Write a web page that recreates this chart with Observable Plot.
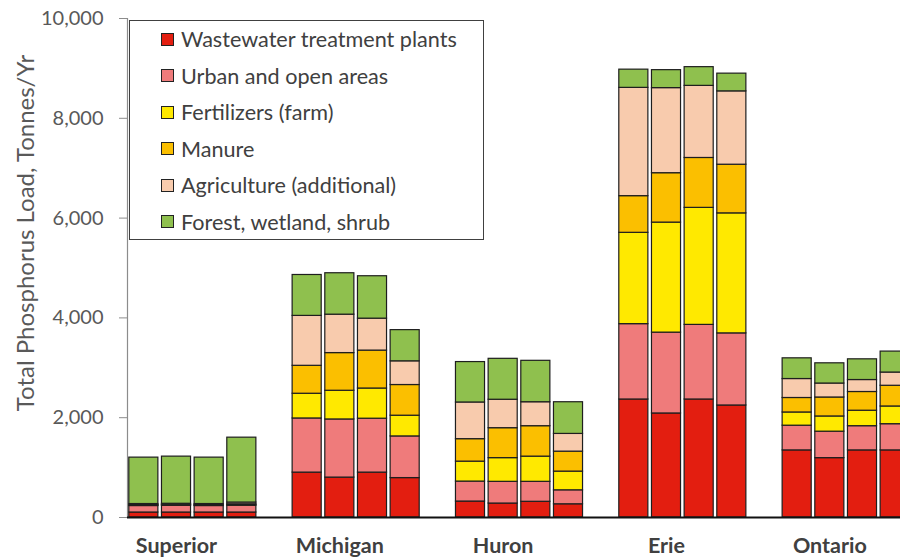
<!DOCTYPE html>
<html>
<head>
<meta charset="utf-8">
<script src="https://cdn.jsdelivr.net/npm/d3@7"></script>
<script src="https://cdn.jsdelivr.net/npm/@observablehq/plot@0.6"></script>
<style>
  html, body { margin: 0; padding: 0; background: #fff; overflow: hidden; width: 900px; height: 559px; }
  #wrap { position: relative; width: 900px; height: 559px; overflow: hidden; font-family: Lato, "Open Sans", sans-serif; }
  #chart { position: absolute; left: 0; top: 0; width: 911px; height: 559px; }
  #chart svg { max-width: none !important; width: 911px; height: 559px; }
  #ylabel { position: absolute; left: 24px; top: 233px; transform: translate(-50%, -50%) rotate(-90deg);
            white-space: nowrap; font-size: 24px; color: #595959; }
  #legend { position: absolute; left: 129px; top: 20px; width: 353px; height: 218px;
            border: 1.5px solid #404040; background: #fff; }
  .item { position: absolute; left: 31px; height: 26px; display: flex; align-items: center;
          font-size: 21.6px; color: #404040; white-space: nowrap; }
  .sw { width: 11px; height: 11px; border: 1.2px solid #222; margin-right: 7px; }
</style>
</head>
<body>
<div id="wrap">
  <div id="chart"></div>
  <div id="ylabel">Total Phosphorus Load, Tonnes/Yr</div>
  <div id="legend"></div>
</div>
<script>
// ---- data ----
const lakes = ["Superior", "Michigan", "Huron", "Erie", "Ontario"];
const scenarios = ["1", "2", "3", "4"];
const sources = [
  "Wastewater treatment plants",
  "Urban and open areas",
  "Fertilizers (farm)",
  "Manure",
  "Agriculture (additional)",
  "Forest, wetland, shrub"
];
const colors = ["#E31E10", "#EF7B7B", "#FFE900", "#FBBF00", "#F8CBAD", "#8FC04E"];

// values per source, 4 bars per lake in lake order
const wastewater  = [100, 100, 100, 100,   900, 800, 900, 790,   320, 280, 315, 265,   2365, 2085, 2365, 2245,   1345, 1190, 1345, 1345];
const urban       = [130, 135, 130, 135,   1085, 1165, 1080, 835, 400, 435, 400, 280,   1510, 1620, 1495, 1445,   495, 530, 485, 525];
const fertilizers = [10, 10, 10, 15,       495, 575, 605, 415,   400, 475, 505, 375,   1830, 2205, 2345, 2405,   265, 305, 310, 355];
const manure      = [10, 10, 10, 15,       560, 755, 760, 615,   450, 600, 610, 400,   735, 990, 1000, 975,      290, 380, 375, 415];
const agriculture = [20, 20, 20, 35,       1000, 770, 640, 475,  735, 570, 480, 355,   2170, 1705, 1445, 1470,   380, 280, 240, 265];
const forest      = [930, 945, 930, 1300,  820, 830, 850, 625,   810, 820, 830, 635,   365, 360, 375, 355,       415, 405, 415, 420];
const series = [wastewater, urban, fertilizers, manure, agriculture, forest];

const yTicks = [0, 2000, 4000, 6000, 8000, 10000];

// ---- build table ----
const slots = [];
lakes.forEach((lake, i) => {
  scenarios.forEach(s => slots.push(lake + "-" + s));
  if (i < lakes.length - 1) slots.push("gap-" + i);
});
const labelSlots = lakes.map(l => l + "-2");
const rows = [];
sources.forEach((src, si) => {
  lakes.forEach((lake, li) => {
    scenarios.forEach((s, k) => {
      rows.push({slot: lake + "-" + s, lake, source: src, value: series[si][li * 4 + k]});
    });
  });
});

const chart = Plot.plot({
  width: 911,
  height: 559,
  marginLeft: 127,
  marginRight: 0,
  marginTop: 18,
  marginBottom: 42,
  style: {fontFamily: "Lato, 'Open Sans', sans-serif", background: "transparent", maxWidth: "none"},
  x: {domain: slots, paddingInner: 0.11, paddingOuter: 0.055, round: false, axis: null},
  y: {domain: [0, 10000], axis: null},
  color: {domain: sources, range: colors},
  marks: [
    Plot.frame({anchor: "left", stroke: "#8c8c8c", strokeWidth: 1.2}),
    Plot.axisY({ticks: yTicks, tickSize: 8, stroke: "#8c8c8c", tickFormat: () => "", label: null}),
    Plot.axisY({ticks: yTicks, tickSize: 0, tickPadding: 24, tickFormat: d3.format(","),
                fontSize: 20, fill: "#595959", label: null}),
    Plot.barY(rows, {x: "slot", y: "value", fill: "source", stroke: "#1e1e1e", strokeWidth: 1.2}),
    Plot.ruleY([0], {stroke: "#111", strokeWidth: 2}),
    Plot.axisX({ticks: labelSlots, tickFormat: s => s.split("-")[0], tickSize: 0, tickPadding: 20,
                fontSize: 21.5, fontWeight: "bold", fill: "#404040", label: null})
  ]
});
document.getElementById("chart").appendChild(chart);

// legend
const legend = document.getElementById("legend");
sources.forEach((src, i) => {
  const it = document.createElement("div");
  it.className = "item";
  it.style.top = (5 + i * 36.5) + "px";
  const sw = document.createElement("div");
  sw.className = "sw";
  sw.style.background = colors[i];
  const tx = document.createElement("span");
  tx.textContent = src;
  it.appendChild(sw);
  it.appendChild(tx);
  legend.appendChild(it);
});
</script>
</body>
</html>
